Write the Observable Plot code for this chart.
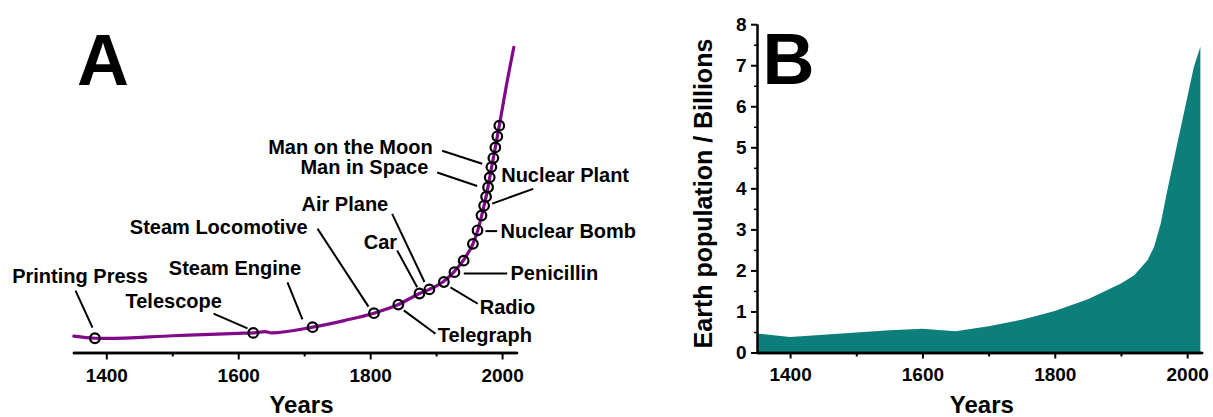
<!DOCTYPE html>
<html><head><meta charset="utf-8">
<script src="https://cdn.jsdelivr.net/npm/d3@7"></script>
<script src="https://cdn.jsdelivr.net/npm/@observablehq/plot@0.6"></script>
<style>
body{margin:0;background:#fff;}
#wrap{position:relative;width:1213px;height:417px;overflow:hidden;background:#fff;}
#a{position:absolute;left:0;top:0;}
#b{position:absolute;left:640px;top:0;}
.letter{position:absolute;font:bold 72px/1 "Liberation Sans",Arial,sans-serif;color:#000;z-index:3;}
svg{font-family:"Liberation Sans",Arial,sans-serif;font-weight:bold;overflow:visible;}
svg text{font-family:"Liberation Sans",Arial,sans-serif;font-weight:bold;}
g[aria-label="x-axis tick label"], g[aria-label="y-axis tick label"]{font-size:19px;font-weight:bold;}
</style></head><body><div id="wrap"><div id="a"></div><div id="b"></div>
<div class="letter" id="la" style="left:77px;top:24px;"></div>
<div class="letter" id="lb" style="left:762.4px;top:23.3px;"></div>
</div>
<script>
// ---- Panel A: trend line (billions scale) ----
const lineYears  = [1350,1382,1400,1500,1600,1622,1640,1650,1712,1760,1805,1842,1874,1889,1911,1927,1941,1955,1962,1968,1975,1983,1989,1995,2005,2017];
const lineValues = [0.41,0.36,0.355,0.42,0.48,0.49,0.52,0.49,0.63,0.79,0.97,1.18,1.45,1.55,1.75,1.99,2.27,2.66,2.97,3.33,3.81,4.50,5.01,5.54,6.45,7.45];

// ---- Panel A: event markers ----
const eventYears  = [1382,1622,1712,1805,1842,1874,1889,1911,1927,1941,1955,1962,1968,1972,1975,1978,1980.5,1983,1986,1989,1992,1995];
const eventValues = [0.36,0.49,0.63,0.97,1.18,1.45,1.55,1.73,1.97,2.25,2.66,2.99,3.35,3.59,3.81,4.04,4.28,4.53,4.75,5.01,5.28,5.54];

// ---- Panel A: annotation labels (data coordinates of text left/baseline) ----
const labelNames  = ["Printing Press","Telescope","Steam Engine","Steam Locomotive","Air Plane","Car","Man on the Moon","Man in Space","Nuclear Plant","Nuclear Bomb","Penicillin","Radio","Telegraph"];
const labelYears  = [1256.6,1428.4,1494.0,1434.9,1695.2,1789.6,1644.7,1693.6,1997.9,1996.8,2012.0,1965.4,1901.8];
const labelValues = [1.70,1.10,1.91,2.89,3.47,2.54,4.85,4.37,4.16,2.81,1.78,0.955,0.26];
// leader lines (start near label, end near marker)
const leaderX1 = [1352.6,1561.8,1673.9,1719.4,1832.6,1840.2,1908.4,1900.9,2046.4,1974.1,1941.2,1921.0,1850.2];
const leaderY1 = [1.52,0.96,1.72,3.03,3.39,2.50,4.93,4.40,4.00,2.97,1.94,1.60,1.04];
const leaderX2 = [1378.3,1613.3,1696.6,1796.7,1881.6,1870.5,1969.1,1961.5,1984.2,1991.8,2007.0,1962.4,1898.3];
const leaderY2 = [0.62,0.60,0.82,1.13,1.73,1.60,4.61,4.07,3.64,2.97,1.94,1.20,0.47];

// ---- Panel letters ----
const panelLetters = ["A", "B"];

// ---- Panel B: world population (billions) ----
const popYears  = [1350,1400,1450,1500,1550,1600,1650,1700,1750,1800,1850,1900,1920,1940,1950,1960,1970,1984,2000,2010,2020];
const popValues = [0.46,0.38,0.43,0.49,0.54,0.58,0.52,0.64,0.80,1.01,1.30,1.68,1.88,2.25,2.57,3.14,3.95,5.01,6.20,6.95,7.45];

// ---- axes ----
const yearDomain = [1350, 2022];
const popDomain = [0, 8];
const majorYearTicks = [1400,1600,1800,2000];
const minorYearTicks = [1500,1700,1900];
const popTicks = [0,1,2,3,4,5,6,7,8];
const popMinorTicks = [0.5,1.5,2.5,3.5,4.5,5.5,6.5,7.5];

const lineData = lineYears.map((x,i)=>({x, y: lineValues[i]}));
const eventData = eventYears.map((x,i)=>({x, y: eventValues[i]}));
const labelData = labelNames.map((t,i)=>({t, x: labelYears[i], y: labelValues[i]}));
const leaderData = leaderX1.map((x1,i)=>({x1, y1: leaderY1[i], x2: leaderX2[i], y2: leaderY2[i]}));
const popData = popYears.map((x,i)=>({x, y: popValues[i]}));
// base line of the x axis, from the year domain at value 0
const xBaseData = yearDomain.map(x => ({x, y: popDomain[0]}));

const common = {height: 417, marginTop: 24.2, marginBottom: 64.5};

const A = Plot.plot({
  ...common,
  width: 640, marginLeft: 73.3, marginRight: 123.4,
  x: {domain: yearDomain, label: null},
  y: {domain: popDomain, axis: null, label: null},
  marks: [
    Plot.axisX({ticks: majorYearTicks, tickSize: 7, tickPadding: 8, strokeWidth: 2, fontSize: 19, fontWeight: "bold", label: null, tickFormat: d => String(d)}),
    Plot.axisX({ticks: minorYearTicks, tickSize: 4, strokeWidth: 2, tickFormat: () => "", label: null}),
    Plot.line(lineData, {x: "x", y: "y", stroke: "#820a8a", strokeWidth: 3.2, curve: "monotone-x"}),
    Plot.dot(eventData, {x: "x", y: "y", r: 4.8, stroke: "black", strokeWidth: 2.2, fill: "none"}),
    Plot.link(leaderData, {x1: "x1", y1: "y1", x2: "x2", y2: "y2", stroke: "black", strokeWidth: 2}),
    Plot.text(labelData, {x: "x", y: "y", text: "t", textAnchor: "start", lineAnchor: "bottom", fontSize: 20, fontWeight: "bold", fill: "black"}),
    Plot.text(["Years"], {text: d => d, frameAnchor: "bottom", textAnchor: "middle", lineAnchor: "bottom", dx: 6, dy: 59.5, fontSize: 24, fontWeight: "bold", fill: "black"}),
    Plot.line(xBaseData, {x: "x", y: "y", stroke: "#000", strokeWidth: 2.5}),
    Plot.ruleY(popDomain.slice(0, 1), {stroke: "#000", strokeWidth: 2.5})
  ]
});
document.getElementById("a").appendChild(A);

const B = Plot.plot({
  ...common,
  width: 573, marginLeft: 117, marginRight: 11.3,
  x: {domain: yearDomain, label: null},
  y: {domain: popDomain, label: null},
  marks: [
    Plot.areaY(popData, {x: "x", y: "y", fill: "#0c7f7b"}),
    Plot.axisX({ticks: majorYearTicks, tickSize: 6, tickPadding: 8, strokeWidth: 2, fontSize: 19, fontWeight: "bold", label: null, tickFormat: d => String(d)}),
    Plot.axisX({ticks: minorYearTicks, tickSize: 4, strokeWidth: 2, tickFormat: () => "", label: null}),
    Plot.axisY({ticks: popTicks, tickSize: 6, tickPadding: 5, strokeWidth: 2, fontSize: 19, fontWeight: "bold", label: null, tickFormat: d => String(d)}),
    Plot.axisY({ticks: popMinorTicks, tickSize: 3, strokeWidth: 1.5, tickFormat: () => "", label: null}),
    Plot.text(["Years"], {text: d => d, frameAnchor: "bottom", textAnchor: "middle", lineAnchor: "bottom", dx: 2, dy: 59.5, fontSize: 24, fontWeight: "bold", fill: "black"}),
    Plot.text(["Earth population / Billions"], {text: d => d, frameAnchor: "left", textAnchor: "middle", rotate: -90, lineAnchor: "bottom", dx: -46, dy: 4.7, fontSize: 25, fontWeight: "bold", fill: "black"}),
    Plot.line(xBaseData, {x: "x", y: "y", stroke: "#000", strokeWidth: 2.5}),
    Plot.ruleY(popDomain.slice(0, 1), {stroke: "#000", strokeWidth: 2.5}),
    Plot.ruleX(yearDomain.slice(0, 1), {stroke: "#000", strokeWidth: 2.5})
  ]
});
document.getElementById("b").appendChild(B);

document.getElementById("la").textContent = panelLetters[0];
document.getElementById("lb").textContent = panelLetters[1];
</script>
</body></html>
